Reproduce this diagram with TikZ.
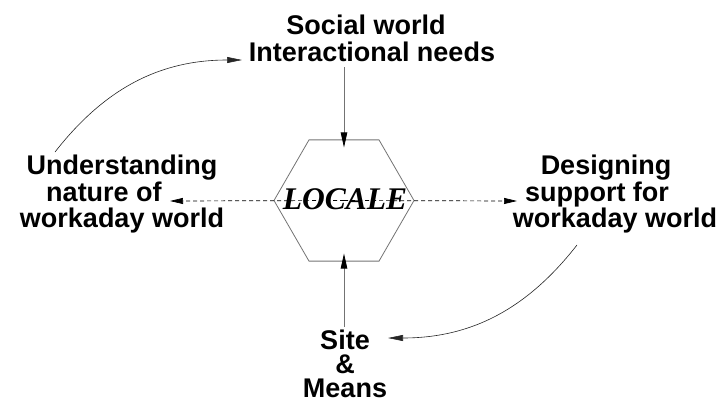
\documentclass[tikz,border=0pt]{standalone}
\usepackage{fontspec}
\usetikzlibrary{arrows.meta,shapes.geometric}
\newfontfamily\labelfont{Liberation Sans}
\newfontfamily\hexfont{Liberation Serif}
\tikzset{
	lbl/.style={font=\labelfont\bfseries\fontsize{27}{26.5}\selectfont, align=center, inner sep=0pt, anchor=north},
	lbltight/.style={lbl, font=\labelfont\bfseries\fontsize{27}{24}\selectfont},
	hexbox/.style={regular polygon, regular polygon sides=6, minimum size=140pt, inner sep=0pt, draw=black!55, line width=.8pt},
	vline/.style={-{Triangle[length=15pt, width=6.5pt, color=black]}, line width=.8pt, black!55},
	bendline/.style={-{Triangle[length=15pt, width=6pt]}, line width=.6pt, black!85},
	dashline/.style={-{Triangle[length=13pt, width=6pt]}, line width=.7pt, dash pattern=on 4pt off 3pt}
}
\begin{document}
\begin{tikzpicture}[x=1pt, y=1pt]
	\useasboundingbox (0, 0) rectangle (725, -399);
	
	% centre
	\node [hexbox] (locale) at (344, -200.5) {};
	\node [font=\hexfont\bfseries\itshape\fontsize{31.5}{31.5}\selectfont, inner sep=0pt, anchor=base] (localetxt) at (345, -209) {LOCALE};
	
	% labels
	\node [lbl] (social) at (372, -15) {Social world\hspace*{12pt}\mbox{}\\Interactional needs};
	\node [lbl] (understand) at (122, -155) {Understanding\\nature of\hspace*{36pt}\mbox{}\\workaday world};
	\node [lbl] (design) at (615, -155) {Designing\hspace*{18pt}\mbox{}\\support for\hspace*{36pt}\mbox{}\\workaday world};
	\node [lbltight] (site) at (345, -330) {Site\\\&\\Means};
	
	% free ends
	\coordinate (topfoot) at (344, -67);
	\coordinate (sitefoot) at (344, -327);
	\coordinate (leftend) at (170, -201);
	\coordinate (rightend) at (517, -201);
	\coordinate (lstart) at (55, -152);
	\coordinate (lend) at (242, -60);
	\coordinate (rstart) at (577, -245);
	\coordinate (rend) at (388, -338);
	
	% lines
	\draw [vline] (topfoot) -- ([yshift=-8pt]locale.north);
	\draw [vline] (sitefoot) -- ([yshift=8pt]locale.south);
	\draw [dashline] (locale.center) -- (leftend);
	\draw [dashline] (locale.center) -- (rightend);
	\draw [bendline] (lstart) to[out=52, in=180] (lend);
	\draw [bendline] (rstart) to[out=232, in=0] (rend);
\end{tikzpicture}
\end{document}
